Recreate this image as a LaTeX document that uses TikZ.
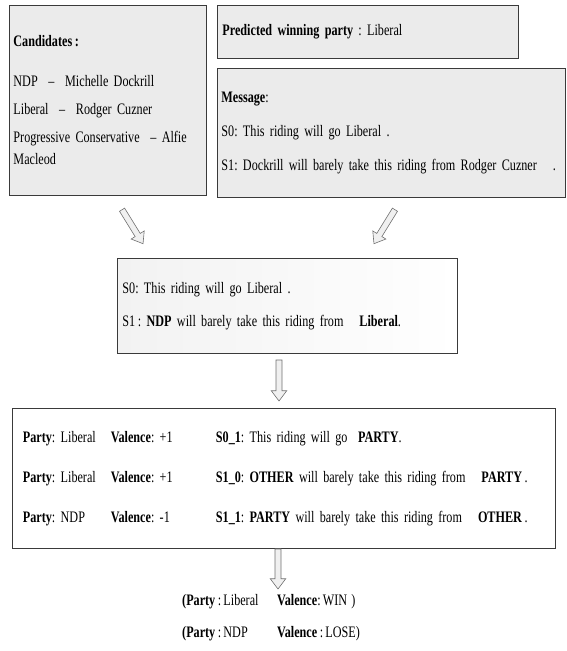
\documentclass[tikz,border=0pt]{standalone}
\usepackage{fontspec}
\setmainfont{Liberation Serif}[FakeStretch=0.76, WordSpace=0.7, BoldFeatures={FakeStretch=0.76, WordSpace=0.7}]
\usetikzlibrary{shapes.arrows, calc}
\definecolor{boxgray}{HTML}{EBEBEB}
\definecolor{edgegray}{HTML}{3A3A3A}
\definecolor{arrowgray}{HTML}{707070}
\definecolor{arrowfill}{HTML}{F0F0F0}
\definecolor{shadeleft}{HTML}{F2F2F2}
\definecolor{shademid}{HTML}{CDCDCD}

\newcommand{\colA}[1]{\makebox[88pt][l]{#1}}
\newcommand{\colB}[1]{\makebox[105pt][l]{#1}}
\newcommand{\colR}[1]{\makebox[95pt][l]{#1}}
\frenchspacing

\tikzset{
  infobox/.style={draw=edgegray, line width=0.9pt, fill=boxgray, anchor=north west, align=left, inner ysep=0pt, font=\fontsize{16}{22}\selectfont},
  blockarrow/.style={single arrow, draw=arrowgray, fill=arrowfill, line width=0.6pt, inner sep=2.7pt, single arrow head extend=4.7pt, single arrow tip angle=74},
}

\begin{document}
\begin{tikzpicture}[x=1pt, y=-1pt]
  \useasboundingbox (0,0) rectangle (566,651);

  % Inputs
  \node[infobox, inner xsep=4pt, text width=189pt, minimum height=190pt] (cand) at (9,5)
    {\textbf{Candidates\,:}\\[18pt]
     NDP\ \ --\ \ Michelle Dockrill\\[6pt]
     Liberal\ \ --\ \ Rodger Cuzner\\[6pt]
     Progressive Conservative\ \ --\ Alfie\\
     Macleod};
  \node[infobox, inner xsep=5pt, text width=291pt, minimum height=53pt] (winner) at (217,5)
    {\textbf{Predicted winning party} : Liberal};
  \node[infobox, inner xsep=4pt, text width=340pt, minimum height=129pt] (msg) at (217,68)
    {\textbf{Message}:\\[12pt]
     S0: This riding will go Liberal\ .\\[12pt]
     S1: Dockrill will barely take this riding from Rodger Cuzner\ \ \ .};

  % Generalised message
  \node[infobox, left color=shadeleft, middle color=shademid, right color=white, inner xsep=5pt, text width=330pt, minimum height=95pt] (templ) at (117,258)
    {S0: This riding will go Liberal\ .\\[11pt]
     S1\,: \textbf{NDP} will barely take this riding from\ \ \ \textbf{Liberal}.};

  % Party / valence table
  \node[infobox, fill=white, inner xsep=11pt, text width=521pt, minimum height=140pt] (tbl) at (11.5,408)
    {\begin{tabular}{@{}l@{}l@{}l@{}}
     \colA{\textbf{Party}: Liberal} & \colB{\textbf{Valence}: +1} & \textbf{S0\_1}: This riding will go\ \ \textbf{PARTY}.\\[18pt]
     \colA{\textbf{Party}: Liberal} & \colB{\textbf{Valence}: +1} & \textbf{S1\_0}: \textbf{OTHER} will barely take this riding from\ \ \ \textbf{PARTY}\,.\\[18pt]
     \colA{\textbf{Party}: NDP} & \colB{\textbf{Valence}: -1} & \textbf{S1\_1}: \textbf{PARTY} will barely take this riding from\ \ \ \textbf{OTHER}\,.
     \end{tabular}};

  % Result
  \node[anchor=north west, inner sep=0pt, align=left, font=\fontsize{16}{22}\selectfont] (result) at (182,590)
    {\begin{tabular}{@{}l@{}l@{}}
     \colR{\textbf{(Party}\,: Liberal} & \textbf{Valence}: WIN\ \ )\\[10pt]
     \colR{\textbf{(Party}\,: NDP} & \textbf{Valence}\,: LOSE)
     \end{tabular}};

  % Arrows
  \coordinate (tA) at (121,208); \coordinate (hA) at (142,242);
  \coordinate (tB) at (396,208); \coordinate (hB) at (375,242);
  \coordinate (tC) at (279,358); \coordinate (hC) at (279,399);
  \coordinate (tD) at (278,547); \coordinate (hD) at (278,587);
  \foreach \nm in {A,B,C,D} {
    \path let \p1 = ($(h\nm)-(t\nm)$) in
      node[blockarrow, minimum height={veclen(\x1,\y1)}, rotate={atan2(\y1,\x1)}] (arrow\nm) at ($(t\nm)!0.5!(h\nm)$) {};
  }
\end{tikzpicture}
\end{document}
